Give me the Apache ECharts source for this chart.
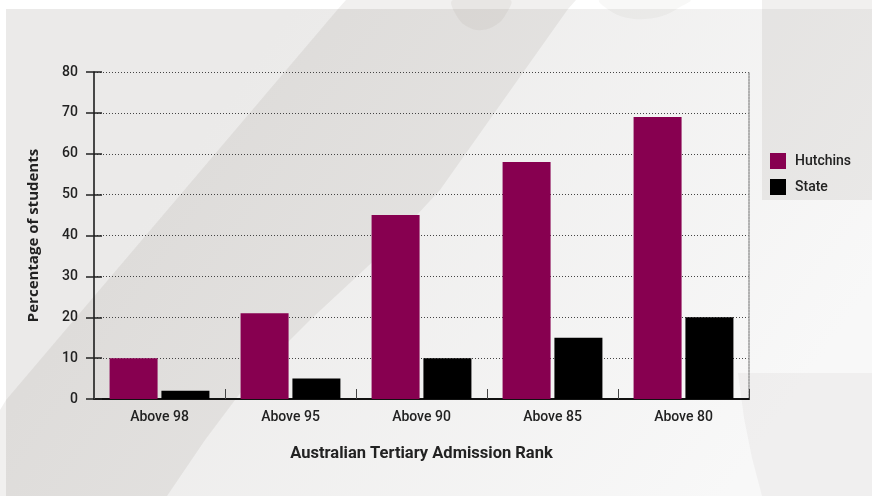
<!DOCTYPE html>
<html>
<head>
<meta charset="utf-8">
<script src="https://cdn.jsdelivr.net/npm/echarts@6/dist/echarts.min.js"></script>
<style>
  html, body { margin: 0; padding: 0; background: #ffffff; }
  #chart { width: 872px; height: 496px; }
</style>
</head>
<body>
<div id="chart"></div>
<script>
// ATAR attainment: share of students above each rank threshold
const categories = ['Above 98', 'Above 95', 'Above 90', 'Above 85', 'Above 80'];
const hutchins = [10, 21, 45, 58, 69];
const state = [2, 5, 10, 15, 20];
const yTicks = { min: 0, max: 80, interval: 10 };

const FONT = 'Roboto, "Liberation Sans", sans-serif';
const WIDE_FONT = '"Open Sans", "DejaVu Sans", sans-serif';
const SHADE = 'rgba(70, 50, 40, 0.075)';

const chart = echarts.init(document.getElementById('chart'), null, { renderer: 'canvas' });

const option = {
  animation: false,
  backgroundColor: '#ffffff',
  graphic: {
    elements: [
      // page panel
      {
        type: 'rect', z: -10, silent: true,
        shape: { x: 6, y: 9, width: 866, height: 487 },
        style: {
          fill: new echarts.graphic.LinearGradient(0.25, 0.2, 0.85, 0.95, [
            { offset: 0, color: '#ebeae9' },
            { offset: 1, color: '#f8f8f8' }
          ])
        }
      },
      // sweeping diagonal band
      {
        type: 'polygon', z: -9, silent: true,
        shape: {
          points: [[346, 0], [576, 0], [568, 9], [500, 105], [440, 190], [380, 255], [310, 320], [250, 380], [205, 440], [167, 496], [0, 496], [0, 410], [6, 400], [338, 9]]
        },
        style: { fill: SHADE }
      },
      // loops at the top edge
      {
        type: 'polygon', z: -8, silent: true,
        shape: { smooth: 0.4, points: [[453, 0], [458, 18], [470, 28], [482, 30], [496, 25], [506, 14], [510, 0]] },
        style: { fill: 'rgba(70, 50, 40, 0.05)' }
      },
      {
        type: 'polygon', z: -8, silent: true,
        shape: { smooth: 0.4, points: [[600, 0], [612, 12], [628, 18], [645, 19], [665, 15], [680, 7], [690, 0]] },
        style: { fill: 'rgba(70, 50, 40, 0.035)' }
      },
      // side panel behind the legend
      {
        type: 'rect', z: -8, silent: true,
        shape: { x: 762, y: 0, width: 110, height: 200 },
        style: { fill: SHADE }
      },
      // lower right curve
      {
        type: 'polygon', z: -8, silent: true,
        shape: { points: [[738, 373], [872, 373], [872, 496], [762, 496], [752, 458], [744, 418]] },
        style: { fill: 'rgba(70, 50, 40, 0.045)' }
      }
    ]
  },
  legend: {
    orient: 'vertical',
    left: 770,
    top: 153,
    padding: 0,
    itemWidth: 16,
    itemHeight: 16,
    itemGap: 10,
    icon: 'rect',
    textStyle: { fontFamily: FONT, fontSize: 14, fontWeight: 500, color: '#222', padding: [0, 0, 0, 4] },
    data: ['Hutchins', 'State']
  },
  grid: { left: 94, right: 123, top: 72, bottom: 97, containLabel: false },
  xAxis: {
    type: 'category',
    data: categories,
    boundaryGap: true,
    name: 'Australian Tertiary Admission Rank',
    nameLocation: 'middle',
    nameGap: 46,
    nameTextStyle: { fontFamily: FONT, fontSize: 16.5, fontWeight: 'bold', color: '#222' },
    axisLine: { show: true, lineStyle: { color: '#111', width: 2 } },
    axisTick: { show: true, inside: true, length: 10, alignWithLabel: false, lineStyle: { color: '#444', width: 1 } },
    axisLabel: { fontFamily: FONT, fontSize: 14, fontWeight: 500, color: '#222', margin: 11 },
    splitLine: { show: false }
  },
  yAxis: [
    {
      type: 'value',
      min: yTicks.min, max: yTicks.max, interval: yTicks.interval,
      name: 'Percentage of students',
      nameLocation: 'middle',
      nameRotate: 90,
      nameGap: 53,
      nameTextStyle: { fontFamily: WIDE_FONT, fontSize: 15, fontWeight: 'bold', color: '#222' },
      axisLine: { show: true, lineStyle: { color: '#111', width: 1.5 } },
      axisTick: { show: true, length: 8, lineStyle: { color: '#222', width: 1.5 } },
      axisLabel: { fontFamily: FONT, fontSize: 14, fontWeight: 500, color: '#222', margin: 16 },
      splitLine: { show: true, lineStyle: { color: '#444', width: 1, type: [1, 2] } }
    },
    {
      type: 'value',
      position: 'left',
      min: yTicks.min, max: yTicks.max, interval: yTicks.interval,
      axisLine: { show: false },
      axisTick: { show: true, inside: true, length: 8, lineStyle: { color: '#222', width: 1.5 } },
      axisLabel: { show: false },
      splitLine: { show: false }
    },
    {
      type: 'value',
      position: 'right',
      min: yTicks.min, max: yTicks.max, interval: yTicks.interval,
      axisLine: { show: true, lineStyle: { color: '#999', width: 1.5, type: [2, 1] } },
      axisTick: { show: false },
      axisLabel: { show: false },
      splitLine: { show: false }
    }
  ],
  series: [
    {
      name: 'Hutchins',
      type: 'bar',
      yAxisIndex: 0,
      data: hutchins,
      barWidth: 48,
      barGap: '8%',
      itemStyle: { color: '#870050' }
    },
    {
      name: 'State',
      type: 'bar',
      yAxisIndex: 0,
      data: state,
      barWidth: 48,
      barGap: '8%',
      itemStyle: { color: '#000000' }
    }
  ]
};

chart.setOption(option);
</script>
</body>
</html>
